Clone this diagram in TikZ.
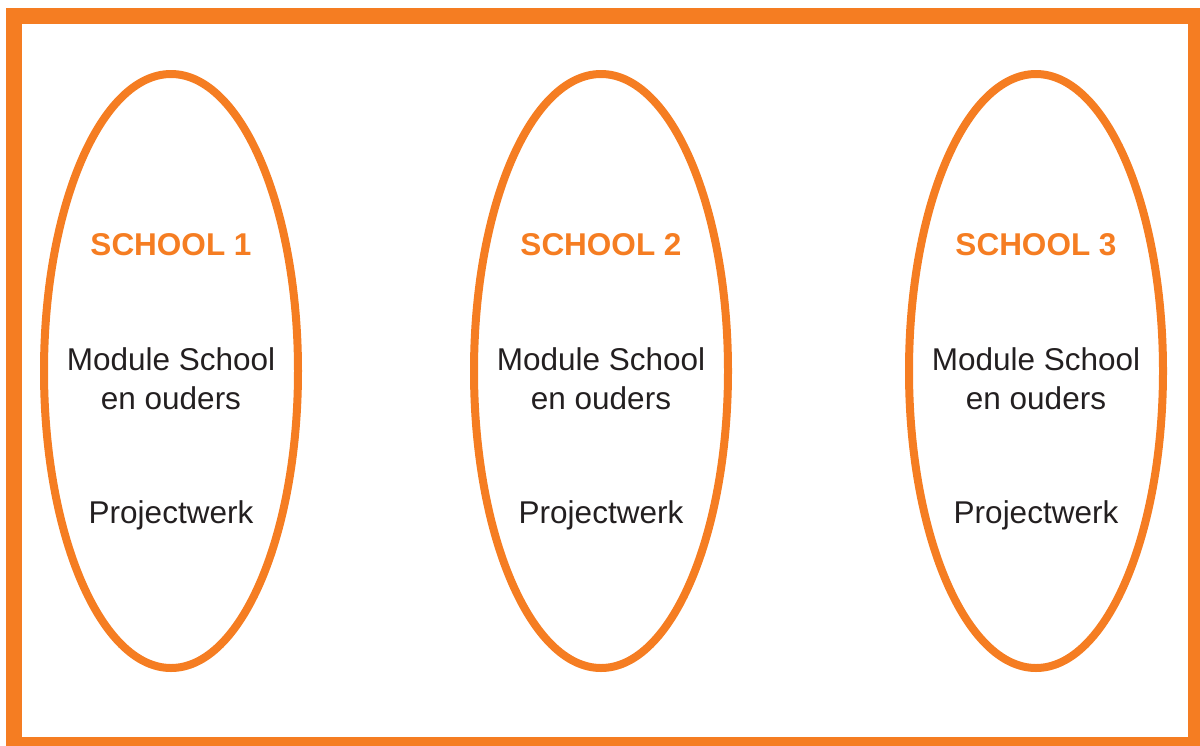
\documentclass[tikz,border=0pt]{standalone}
\usepackage{fontspec}
\setmainfont{Liberation Sans}
\usetikzlibrary{shapes.geometric}
\definecolor{schoolorange}{RGB}{245,125,34}
\definecolor{textgrey}{RGB}{35,31,32}
\begin{document}
\begin{tikzpicture}[x=0.5pt,y=-0.5pt,
  schoolring/.style={draw=schoolorange,line width=4pt,ellipse,minimum width=127pt,minimum height=297pt,inner sep=0pt},
  schooltitle/.style={text=schoolorange,font=\fontsize{15.75}{19.5}\selectfont\bfseries,anchor=center},
  schooltext/.style={text=textgrey,font=\fontsize{15.75}{19.5}\selectfont,align=center,anchor=center}]
\useasboundingbox (0,0) rectangle (1200,745);
\begin{scope}
\clip (0,0) rectangle (1200,745);
\draw[schoolorange,line width=8pt] (14,16) rectangle (1196,745);
\end{scope}
\foreach \cx/\n in {171/1,601/2,1036/3}{
  \node[schoolring] (ring\n) at (\cx,371) {};
  \node[schooltitle] (title\n) at (\cx,245) {SCHOOL \n};
  \node[schooltext] (module\n) at (\cx,379) {Module School\\en ouders};
  \node[schooltext] (project\n) at (\cx,515) {Projectwerk};
}
\end{tikzpicture}
\end{document}
